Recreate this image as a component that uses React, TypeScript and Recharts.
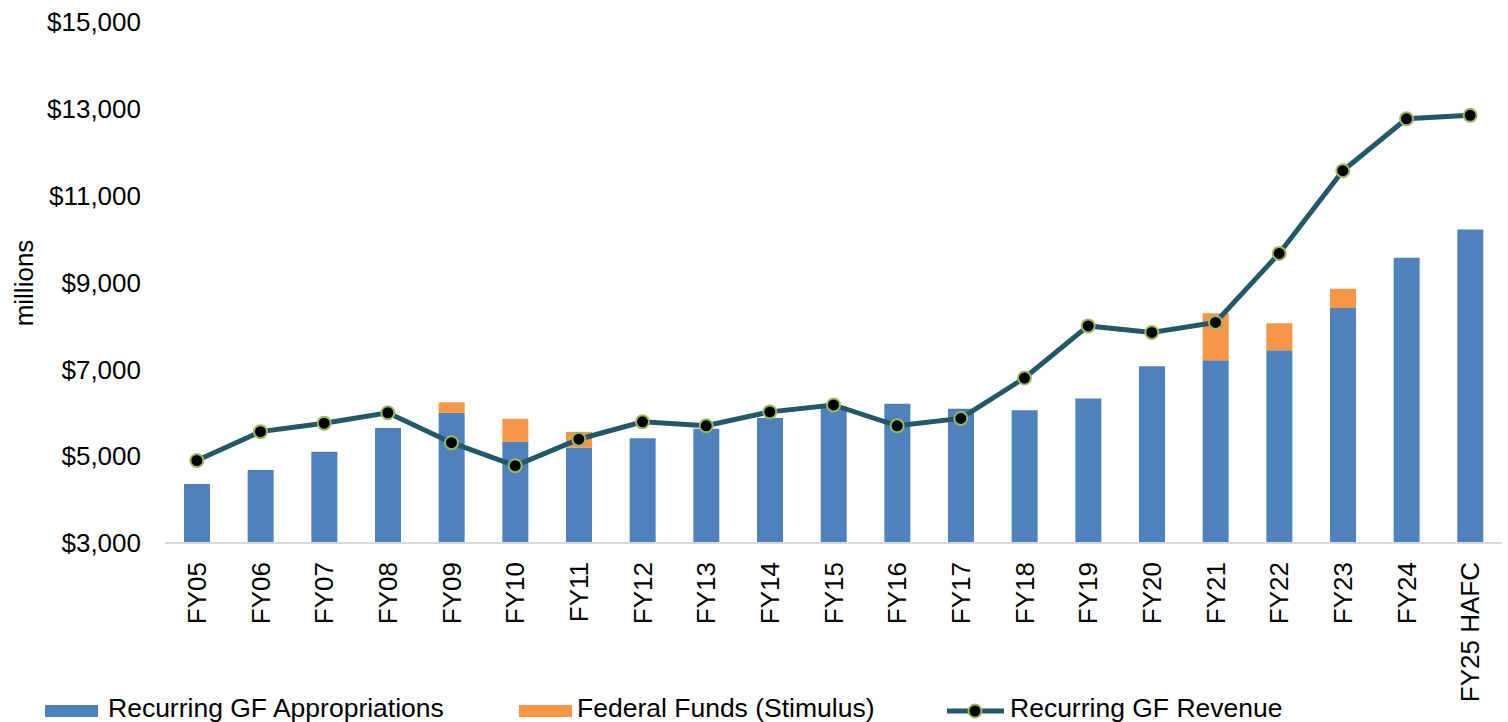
import React from "react"
import { ComposedChart, Bar, Line, XAxis, YAxis } from "recharts"

const categories = [
  "FY05", "FY06", "FY07", "FY08", "FY09", "FY10", "FY11", "FY12", "FY13", "FY14",
  "FY15", "FY16", "FY17", "FY18", "FY19", "FY20", "FY21", "FY22", "FY23", "FY24", "FY25 HAFC",
]

const appropriations = [
  4360, 4680, 5100, 5650, 6000, 5330, 5200, 5410, 5630, 5880,
  6150, 6210, 6090, 6060, 6330, 7070, 7210, 7440, 8410, 9570, 10220,
]

const stimulus = [
  0, 0, 0, 0, 240, 530, 360, 0, 0, 0,
  0, 0, 0, 0, 0, 0, 1080, 620, 445, 0, 0,
]

const revenue = [
  4900, 5565, 5760, 6000, 5310, 4780, 5390, 5790, 5700, 6020,
  6180, 5700, 5870, 6800, 8000, 7850, 8080, 9670, 11575, 12770, 12850,
]

const yTicks = [3000, 5000, 7000, 9000, 11000, 13000, 15000]

const data = categories.map((name, i) => ({
  name,
  appropriations: appropriations[i],
  stimulus: stimulus[i],
  revenue: revenue[i],
}))

const FONT = '"Liberation Sans", Arial, sans-serif'
const BLUE = "#4F81BD"
const ORANGE = "#F79646"
const TEAL = "#215968"
const GREEN = "#9BBB59"

function XTick(props: any) {
  const { x, y, payload } = props
  return (
    <text
      x={x + 9}
      y={y + 19}
      transform={`rotate(-90, ${x + 9}, ${y + 19})`}
      textAnchor="end"
      fontFamily={FONT}
      fontSize={26}
      fill="#000"
    >
      {payload.value}
    </text>
  )
}

function AxisTitle() {
  return (
    <text
      x={33}
      y={283}
      transform="rotate(-90, 33, 283)"
      textAnchor="middle"
      fontFamily={FONT}
      fontSize={26}
      fill="#000"
    >
      millions
    </text>
  )
}

function LegendRow() {
  return (
    <svg width={1508} height={32} style={{ position: "absolute", left: 0, top: 690 }}>
      <rect x={45} y={15} width={53} height={12} fill={BLUE} />
      <text x={108} y={27} fontFamily={FONT} fontSize={26.5} fill="#000">
        Recurring GF Appropriations
      </text>
      <rect x={519} y={15} width={53} height={12} fill={ORANGE} />
      <text x={577} y={27} fontFamily={FONT} fontSize={26.5} fill="#000">
        Federal Funds (Stimulus)
      </text>
      <line x1={947} y1={21} x2={1004} y2={21} stroke={TEAL} strokeWidth={5} />
      <circle cx={975} cy={21} r={6.5} fill="#000" stroke={GREEN} strokeWidth={2} />
      <text x={1010} y={27} fontFamily={FONT} fontSize={26.5} fill="#000">
        Recurring GF Revenue
      </text>
    </svg>
  )
}

export default function App() {
  return (
    <div style={{ position: "absolute", left: 0, top: 0, width: 1508, height: 722, background: "#fff" }}>
      <ComposedChart width={1508} height={722} data={data} margin={{ top: 22, right: 6, left: 0, bottom: 9 }}>
        <XAxis
          dataKey="name"
          height={170}
          interval={0}
          tick={<XTick />}
          tickLine={false}
          tickSize={0}
          tickMargin={0}
          axisLine={{ stroke: "#D9D9D9", strokeWidth: 2 }}
        />
        <YAxis
          width={165}
          domain={[3000, 15000]}
          allowDataOverflow
          ticks={yTicks}
          tickFormatter={(v) => `$${Number(v).toLocaleString("en-US")}`}
          tick={{ fontFamily: FONT, fontSize: 26, fill: "#000" }}
          tickLine={false}
          tickSize={0}
          tickMargin={24}
          axisLine={false}
          label={<AxisTitle />}
        />
        <Bar dataKey="appropriations" stackId="a" fill={BLUE} barSize={26} isAnimationActive={false} />
        <Bar dataKey="stimulus" stackId="a" fill={ORANGE} barSize={26} isAnimationActive={false} />
        <Line
          dataKey="revenue"
          stroke={TEAL}
          strokeWidth={5}
          dot={{ r: 6.5, fill: "#000", stroke: GREEN, strokeWidth: 2 }}
          activeDot={false}
          isAnimationActive={false}
        />
      </ComposedChart>
      <LegendRow />
    </div>
  )
}
